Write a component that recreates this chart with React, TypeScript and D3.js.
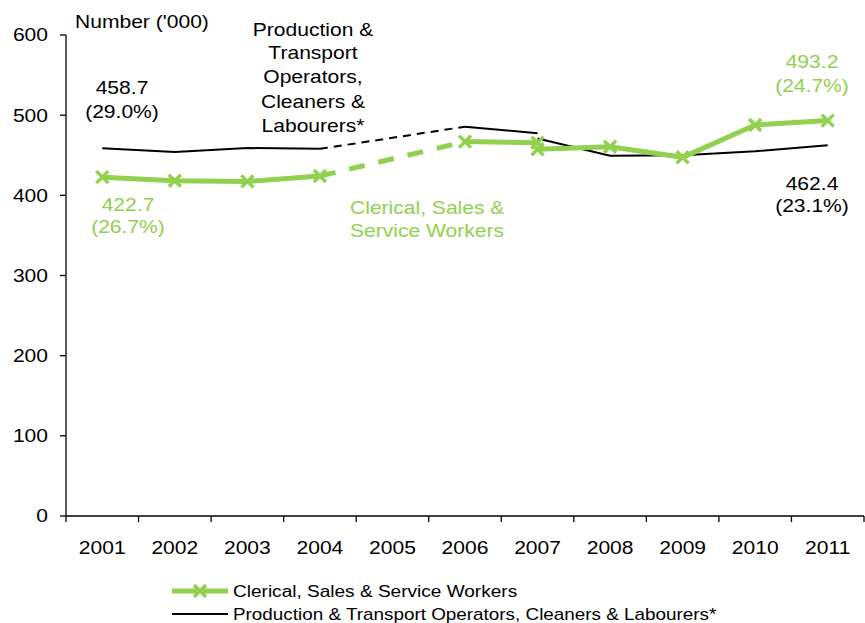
import React from "react";
import * as d3 from "d3";

const years = ["2001","2002","2003","2004","2005","2006","2007","2008","2009","2010","2011"];
const yTicks = [0, 100, 200, 300, 400, 500, 600];

// Clerical, Sales & Service Workers
const clericalOldYears = ["2001","2002","2003","2004"];
const clericalOldValues = [422.7, 418.2, 417.4, 424.0];
const clericalMidYears = ["2006","2007"];
const clericalMidValues = [467.0, 465.7];
const clericalGapYears = ["2004","2006"];
const clericalGapValues = [424.0, 467.0];
const clericalNewYears = ["2007","2008","2009","2010","2011"];
const clericalNewValues = [457.4, 460.5, 447.4, 487.7, 493.2];

// Production & Transport Operators, Cleaners & Labourers
const prodOldYears = ["2001","2002","2003","2004"];
const prodOldValues = [458.7, 454.2, 459.0, 458.0];
const prodMidYears = ["2006","2007"];
const prodMidValues = [485.6, 477.4];
const prodGapYears = ["2004","2006"];
const prodGapValues = [458.0, 485.6];
const prodNewYears = ["2007","2008","2009","2010","2011"];
const prodNewValues = [471.0, 449.5, 450.0, 455.0, 462.4];

const GREEN = "#92D050";
const FONT = "Arial, 'Liberation Sans', sans-serif";

function T(props: { x: number; y: number; size?: number; anchor?: string; fill?: string; sx?: number; dy?: string; children: React.ReactNode }) {
  const { x, y, size = 18, anchor = "start", fill = "black", sx = 1.17, dy, children } = props;
  return (
    <text transform={`translate(${x},${y}) scale(${sx},1)`} fontSize={size} textAnchor={anchor} fill={fill} dy={dy}>
      {children}
    </text>
  );
}

export default function App() {
  const W = 865, H = 623;
  const x0 = 66, x1 = 864, yTop = 35, yBot = 516;
  const x = d3.scaleBand<string>().domain(years).range([x0, x1]);
  const y = d3.scaleLinear().domain([0, 600]).range([yBot, yTop]);
  const cx = (yr: string) => (x(yr) as number) + x.bandwidth() / 2;

  const mk = (ys: string[], vs: number[]) =>
    d3.line<number>().x((_, i) => cx(ys[i])).y((v) => y(v))(vs) as string;

  const marker = (px: number, py: number, key: string) => (
    <g key={key} stroke={GREEN} strokeWidth={3.5}>
      <line x1={px - 6} y1={py - 6} x2={px + 6} y2={py + 6} />
      <line x1={px - 6} y1={py + 6} x2={px + 6} y2={py - 6} />
    </g>
  );

  const greenPts: [string, number][] = [
    ...clericalOldYears.map((yr, i) => [yr, clericalOldValues[i]] as [string, number]),
    ...clericalMidYears.map((yr, i) => [yr, clericalMidValues[i]] as [string, number]),
    ...clericalNewYears.map((yr, i) => [yr, clericalNewValues[i]] as [string, number]),
  ];

  const boundaries = years.map((yr) => x(yr) as number).concat([x1]);

  return (
    <svg width={W} height={H} style={{ position: "absolute", left: 0, top: 0 }} fontFamily={FONT}>
      <rect width={W} height={H} fill="white" />
      {/* axes */}
      <line x1={x0} y1={yTop} x2={x0} y2={yBot} stroke="black" strokeWidth={1.3} />
      <line x1={x0} y1={yBot} x2={x1} y2={yBot} stroke="black" strokeWidth={1.3} />
      {yTicks.map((t) => (
        <g key={t}>
          <line x1={x0 - 6} x2={x0} y1={y(t)} y2={y(t)} stroke="black" strokeWidth={1.3} />
          <T x={48} y={y(t)} dy="0.36em" anchor="end">{t}</T>
        </g>
      ))}
      {boundaries.map((b, i) => (
        <line key={i} x1={b} x2={b} y1={yBot} y2={yBot + 6} stroke="black" strokeWidth={1.3} />
      ))}
      {years.map((yr) => (
        <T key={yr} x={cx(yr)} y={yBot + 38} anchor="middle">{yr}</T>
      ))}

      {/* production lines */}
      <g fill="none" stroke="black" strokeWidth={2}>
        <path d={mk(prodOldYears, prodOldValues)} />
        <path d={mk(prodGapYears, prodGapValues)} strokeDasharray="8,6" />
        <path d={mk(prodMidYears, prodMidValues)} />
        <path d={mk(prodNewYears, prodNewValues)} />
      </g>
      {/* clerical lines */}
      <g fill="none" stroke={GREEN} strokeWidth={5}>
        <path d={mk(clericalOldYears, clericalOldValues)} />
        <path d={mk(clericalGapYears, clericalGapValues)} strokeDasharray="16,14" />
        <path d={mk(clericalMidYears, clericalMidValues)} />
        <path d={mk(clericalNewYears, clericalNewValues)} />
      </g>
      {greenPts.map(([yr, v], i) => marker(cx(yr), y(v), "m" + i))}

      {/* annotations */}
      <T x={75} y={28}>Number ('000)</T>
      <T x={313} y={36} anchor="middle">Production &amp;</T>
      <T x={313} y={59} anchor="middle">Transport</T>
      <T x={313} y={83} anchor="middle">Operators,</T>
      <T x={313} y={108} anchor="middle">Cleaners &amp;</T>
      <T x={313} y={132} anchor="middle">Labourers*</T>
      <T x={122} y={94} anchor="middle">458.7</T>
      <T x={122} y={118} anchor="middle">(29.0%)</T>
      <T x={812} y={190} anchor="middle">462.4</T>
      <T x={812} y={212} anchor="middle">(23.1%)</T>

      <T x={128} y={211} anchor="middle" fill={GREEN}>422.7</T>
      <T x={128} y={233} anchor="middle" fill={GREEN}>(26.7%)</T>
      <T x={812} y={68} anchor="middle" fill={GREEN}>493.2</T>
      <T x={812} y={92} anchor="middle" fill={GREEN}>(24.7%)</T>
      <T x={350} y={214} fill={GREEN}>Clerical, Sales &amp;</T>
      <T x={350} y={237} fill={GREEN}>Service Workers</T>

      {/* legend */}
      <line x1={172} x2={228} y1={591} y2={591} stroke={GREEN} strokeWidth={5} />
      {marker(200, 591, "leg")}
      <T x={233} y={597} size={16} sx={1.19}>Clerical, Sales &amp; Service Workers</T>
      <line x1={172} x2={228} y1={614} y2={614} stroke="black" strokeWidth={2} />
      <T x={233} y={620} size={16} sx={1.18}>Production &amp; Transport Operators, Cleaners &amp; Labourers*</T>
    </svg>
  );
}
